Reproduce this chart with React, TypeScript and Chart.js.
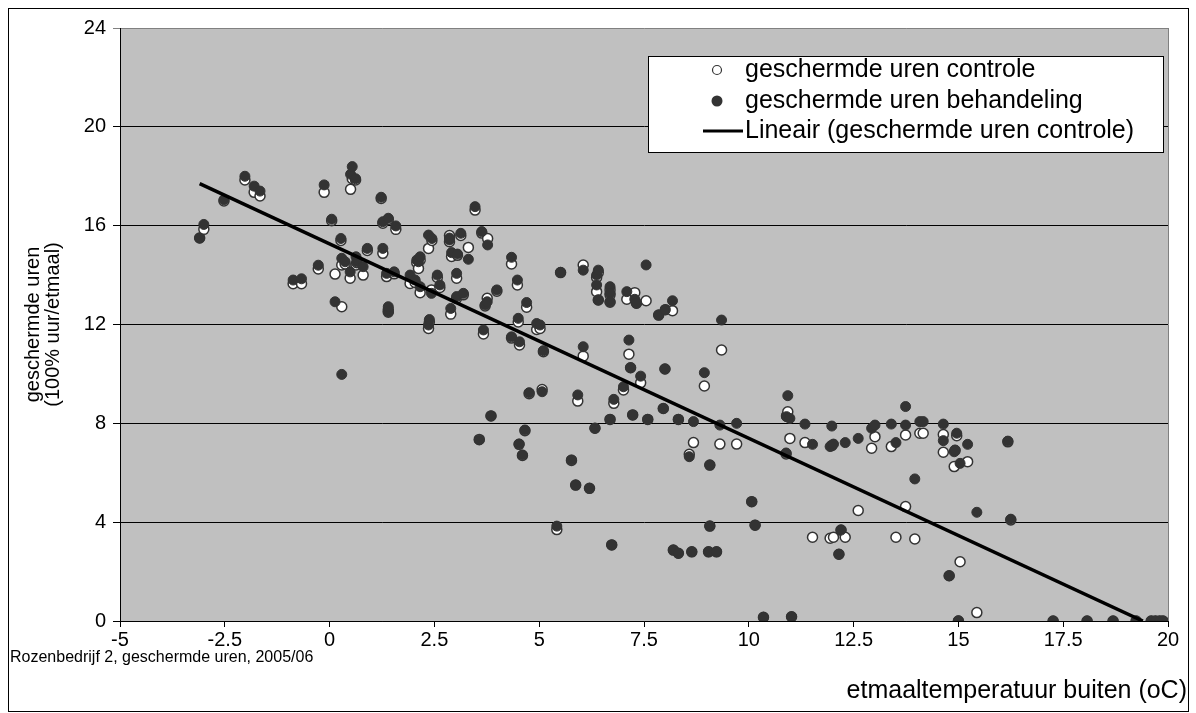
import React, { useEffect, useRef } from 'react';
import { Chart, registerables } from 'chart.js';

Chart.register(...registerables);

// etmaaltemperatuur buiten (oC)
const temperatuur = [
  -3.1, -3.0, -2.52, -2.02, -1.8, -1.66, -0.87, -0.67, -0.27, -0.13,
  0.05, 0.13, 0.27, 0.29, 0.29, 0.37, 0.49, 0.5, 0.54, 0.62,
  0.63, 0.65, 0.8, 0.9, 1.23, 1.27, 1.27, 1.36, 1.4, 1.4,
  1.4, 1.54, 1.58, 1.92, 2.04, 2.08, 2.12, 2.16, 2.16, 2.36,
  2.38, 2.36, 2.44, 2.43, 2.57, 2.63, 2.86, 2.86, 2.89, 2.91,
  3.03, 3.03, 3.05, 3.13, 3.19, 3.31, 3.47, 3.57, 3.63, 3.67,
  3.71, 3.76, 3.77, 3.85, 3.99, 4.34, 4.34, 4.48, 4.5, 4.52,
  4.53, 4.6, 4.66, 4.7, 4.76, 4.94, 5.02, 5.07, 5.1, 5.42,
  5.51, 5.77, 5.87, 5.92, 6.05, 6.05, 6.2, 6.33, 6.37, 6.37,
  6.41, 6.41, 6.69, 6.69, 6.69, 6.69, 6.73, 6.78, 7.01, 7.09,
  7.14, 7.18, 7.23, 7.28, 7.32, 7.42, 7.55, 7.59, 7.85, 7.96,
  8.0, 8.01, 8.18, 8.2, 8.32, 8.32, 8.58, 8.64, 8.68, 8.94,
  9.04, 9.07, 9.07, 9.23, 9.31, 9.35, 9.71, 10.07, 10.15, 10.35,
  10.89, 10.9, 10.93, 10.98, 11.02, 11.34, 11.52, 11.94, 11.98, 12.02,
  12.15, 12.2, 12.3, 12.61, 12.93, 13.01, 13.4, 13.51, 13.74, 13.74,
  13.96, 14.08, 14.16, 14.64, 14.64, 14.78, 14.9, 14.92, 14.96, 15.0,
  15.04, 15.22, 15.44, 16.18, 16.25, 17.26, 18.07, 18.69, 19.24, 19.6,
  19.7, 19.8, 19.88,
];

// geschermde uren controle
const controle = [
  15.5, 15.85, 17.0, 17.85, 17.35, 17.2, 13.65, 13.65, 14.25, 17.35,
  16.2, 14.04, 15.4, 12.72, 14.41, 14.45, 13.87, 17.47, 17.9, 17.85,
  14.41, 14.5, 14.0, 15.0, 17.1, 14.88, 16.1, 13.94, 16.25, 12.5,
  12.6, 14.05, 15.85, 13.66, 13.7, 14.5, 14.27, 14.6, 13.29, 11.84,
  12.1, 15.08, 15.4, 13.4, 13.9, 13.5, 15.6, 15.35, 12.42, 14.75,
  13.87, 13.06, 14.8, 15.6, 13.2, 15.12, 16.63, 7.35, 15.7, 11.62,
  12.75, 13.06, 15.48, 8.3, 13.35, 14.45, 11.45, 13.6, 12.1, 7.15,
  11.17, 6.7, 7.7, 12.7, 9.2, 11.8, 11.84, 9.37, 10.9, 3.7,
  14.1, 6.5, 5.5, 8.9, 14.41, 10.72, 5.37, 7.8, 13.9, 13.33,
  14.1, 12.99, 13.4, 13.2, 12.9, 8.16, 3.08, 8.81, 9.35, 13.02,
  10.8, 10.25, 8.34, 13.29, 12.86, 9.64, 12.96, 8.16, 12.38, 8.6,
  10.2, 12.6, 12.56, 2.87, 8.16, 2.74, 6.75, 2.8, 7.22, 9.51,
  2.8, 3.84, 6.31, 2.8, 7.16, 10.97, 7.16, 4.83, 3.88, 0.15,
  6.76, 8.3, 8.47, 7.39, 0.17, 7.22, 3.39, 3.35, 7.1, 3.39,
  2.7, 3.68, 3.39, 4.47, 6.99, 7.46, 7.06, 3.39, 7.53, 4.63,
  3.32, 7.6, 7.6, 7.55, 6.83, 1.83, 6.25, 6.9, 7.5, 0.0,
  2.4, 6.45, 0.34, 7.25, 4.09, 0, 0, 0, 0, 0,
  0, 0, 0,
];

// geschermde uren behandeling
const behandeling = [
  15.5, 16.05, 17.05, 18.0, 17.6, 17.4, 13.8, 13.85, 14.4, 17.65,
  16.26, 12.92, 15.48, 9.98, 14.68, 14.54, 14.13, 18.08, 18.39, 17.9,
  14.74, 14.54, 14.34, 15.08, 17.15, 15.08, 16.16, 14.07, 16.3, 12.52,
  12.72, 14.13, 15.99, 14.0, 13.8, 14.61, 14.54, 14.74, 13.53, 11.98,
  12.2, 15.62, 15.48, 13.26, 14.0, 13.6, 15.5, 15.42, 12.65, 14.91,
  14.07, 13.13, 14.85, 15.69, 13.26, 14.64, 16.77, 7.33, 15.76, 11.78,
  12.79, 12.92, 15.22, 8.3, 13.4, 14.72, 11.5, 13.8, 12.25, 7.16,
  11.3, 6.72, 7.73, 12.89, 9.24, 12.04, 11.98, 9.28, 10.94, 3.84,
  14.11, 6.52, 5.5, 9.15, 14.2, 11.1, 5.37, 7.8, 14.0, 13.6,
  14.2, 12.99, 13.53, 13.26, 12.92, 8.16, 3.08, 8.97, 9.48, 13.33,
  11.37, 10.25, 8.34, 13.02, 12.86, 9.91, 14.41, 8.16, 12.38, 8.6,
  10.2, 12.6, 12.96, 2.87, 8.16, 2.74, 6.65, 2.8, 8.07, 10.05,
  2.8, 3.84, 6.31, 2.8, 7.93, 12.18, 8.0, 4.83, 3.88, 0.15,
  6.8, 8.27, 9.12, 8.2, 0.17, 7.97, 7.15, 7.06, 7.89, 7.16,
  2.7, 3.68, 7.22, 7.39, 7.8, 7.93, 7.97, 7.22, 7.93, 8.68,
  5.75, 8.07, 8.07, 7.97, 7.3, 1.83, 6.85, 6.92, 7.6, 0.01,
  6.38, 7.15, 4.4, 7.28, 4.12, 0, 0, 0, 0, 0,
  0, 0, 0,
];

const xTickStep = 2.5;
const yTickValues = [0, 4, 8, 12, 16, 20, 24];

const seriesLabels = [
  'geschermde uren controle',
  'geschermde uren behandeling',
  'Lineair (geschermde uren controle)',
];
const yTitle = ['geschermde uren', '(100% uur/etmaal)'];
const xTitle = 'etmaaltemperatuur buiten (oC)';
const footnote = 'Rozenbedrijf 2, geschermde uren, 2005/06';

const FONT = "'Liberation Sans', Arial, sans-serif";

function linearFit(xs: number[], ys: number[]) {
  const n = xs.length;
  let sx = 0, sy = 0, sxx = 0, sxy = 0;
  for (let i = 0; i < n; i++) {
    sx += xs[i]; sy += ys[i]; sxx += xs[i] * xs[i]; sxy += xs[i] * ys[i];
  }
  const slope = (n * sxy - sx * sy) / (n * sxx - sx * sx);
  const intercept = (sy - slope * sx) / n;
  return { slope, intercept };
}

export default function App() {
  const canvasRef = useRef<HTMLCanvasElement | null>(null);

  useEffect(() => {
    const canvas = canvasRef.current;
    if (!canvas) return;

    const fit = linearFit(temperatuur, controle);
    const xMin = Math.min(...temperatuur);
    const xMax = Math.min(Math.max(...temperatuur), -fit.intercept / fit.slope);
    const trend = [
      { x: xMin, y: fit.intercept + fit.slope * xMin },
      { x: xMax, y: fit.intercept + fit.slope * xMax },
    ];

    const decor = {
      id: 'decor',
      beforeDraw(chart: any) {
        const { ctx, chartArea } = chart;
        ctx.save();
        ctx.fillStyle = '#ffffff';
        ctx.fillRect(0, 0, chart.width, chart.height);
        ctx.fillStyle = '#c0c0c0';
        ctx.fillRect(chartArea.left, chartArea.top, chartArea.right - chartArea.left, chartArea.bottom - chartArea.top);
        ctx.restore();
      },
      beforeDatasetsDraw(chart: any) {
        const { ctx, chartArea } = chart;
        ctx.save();
        ctx.strokeStyle = '#808080';
        ctx.lineWidth = 1;
        ctx.beginPath();
        ctx.moveTo(Math.round(chartArea.right) + 0.5, chartArea.top);
        ctx.lineTo(Math.round(chartArea.right) + 0.5, chartArea.bottom);
        ctx.stroke();
        ctx.restore();
      },
      afterDraw(chart: any) {
        const { ctx } = chart;
        ctx.save();
        // outer frame
        ctx.strokeStyle = '#000';
        ctx.lineWidth = 1;
        ctx.strokeRect(8.5, 8.5, 1180, 703);
        // legend
        const lx = 648, ly = 56, lw = 515, lh = 96;
        ctx.fillStyle = '#fff';
        ctx.fillRect(lx, ly, lw, lh);
        ctx.strokeRect(lx + 0.5, ly + 0.5, lw, lh);
        const rows = [70, 101, 131];
        ctx.font = `25px ${FONT}`;
        ctx.textBaseline = 'middle';
        ctx.textAlign = 'left';
        // row 1
        ctx.beginPath();
        ctx.arc(717, rows[0], 4.5, 0, Math.PI * 2);
        ctx.fillStyle = '#fff';
        ctx.fill();
        ctx.strokeStyle = '#333';
        ctx.lineWidth = 1.2;
        ctx.stroke();
        ctx.fillStyle = '#000';
        ctx.fillText(seriesLabels[0], 745, rows[0]);
        // row 2
        ctx.beginPath();
        ctx.arc(717, rows[1], 5.5, 0, Math.PI * 2);
        ctx.fillStyle = '#333';
        ctx.fill();
        ctx.fillStyle = '#000';
        ctx.fillText(seriesLabels[1], 745, rows[1]);
        // row 3
        ctx.beginPath();
        ctx.strokeStyle = '#000';
        ctx.lineWidth = 3;
        ctx.moveTo(703, rows[2]);
        ctx.lineTo(743, rows[2]);
        ctx.stroke();
        ctx.fillText(seriesLabels[2], 745, rows[2]);
        // footnote + x title
        ctx.font = `16px ${FONT}`;
        ctx.fillText(footnote, 10, 658);
        ctx.font = `25px ${FONT}`;
        ctx.textAlign = 'right';
        ctx.fillText(xTitle, 1187, 691);
        ctx.restore();
      },
    };

    const chart = new Chart(canvas, {
      type: 'scatter',
      data: {
        datasets: [
          {
            label: seriesLabels[2],
            data: trend,
            showLine: true,
            borderColor: '#000',
            borderWidth: 3.5,
            pointRadius: 0,
            order: 0,
          } as any,
          {
            label: seriesLabels[1],
            data: temperatuur.map((x, i) => ({ x, y: behandeling[i] })),
            backgroundColor: '#333333',
            borderColor: '#333333',
            borderWidth: 1,
            pointRadius: 5,
            order: 1,
          },
          {
            label: seriesLabels[0],
            data: temperatuur.map((x, i) => ({ x, y: controle[i] })),
            backgroundColor: '#ffffff',
            borderColor: '#333333',
            borderWidth: 1.5,
            pointRadius: 5,
            order: 2,
          },
        ],
      },
      options: {
        animation: false,
        responsive: false,
        devicePixelRatio: 1,
        layout: { padding: { top: 28, right: 28, left: 0, bottom: 0 } },
        plugins: {
          legend: { display: false },
          tooltip: { enabled: false },
        },
        scales: {
          x: {
            type: 'linear',
            min: -5,
            max: 20,
            afterFit: (s: any) => { s.height = 92; },
            ticks: {
              stepSize: xTickStep,
              color: '#000',
              font: { family: FONT, size: 20 },
              padding: 1,
              maxRotation: 0,
              autoSkip: false,
              callback: (v: any) => String(v),
            },
            grid: {
              drawOnChartArea: false,
              drawTicks: true,
              tickLength: 6,
              color: '#000',
            },
            border: { display: true, color: '#000', width: 1 },
          },
          y: {
            type: 'linear',
            min: 0,
            max: 24,
            afterFit: (s: any) => { s.width = 120; },
            afterBuildTicks: (s: any) => { s.ticks = yTickValues.map((v) => ({ value: v })); },
            ticks: {
              color: '#000',
              font: { family: FONT, size: 20 },
              padding: 7,
              callback: (v: any) => String(v),
            },
            grid: {
              color: (c: any) => (c.tick && c.tick.value === 24 ? '#808080' : '#000'),
              tickLength: 7,
              lineWidth: 1,
            },
            border: { display: true, color: '#000', width: 1 },
            title: {
              display: true,
              text: yTitle,
              color: '#000',
              font: { family: FONT, size: 20, lineHeight: 1.0 },
              padding: { top: 23, bottom: 0 },
            },
          },
        },
      },
      plugins: [decor],
    });

    return () => chart.destroy();
  }, []);

  return (
    <div style={{ position: 'absolute', left: 0, top: 0, width: 1196, height: 713 }}>
      <canvas ref={canvasRef} width={1196} height={713} style={{ display: 'block' }} />
    </div>
  );
}
